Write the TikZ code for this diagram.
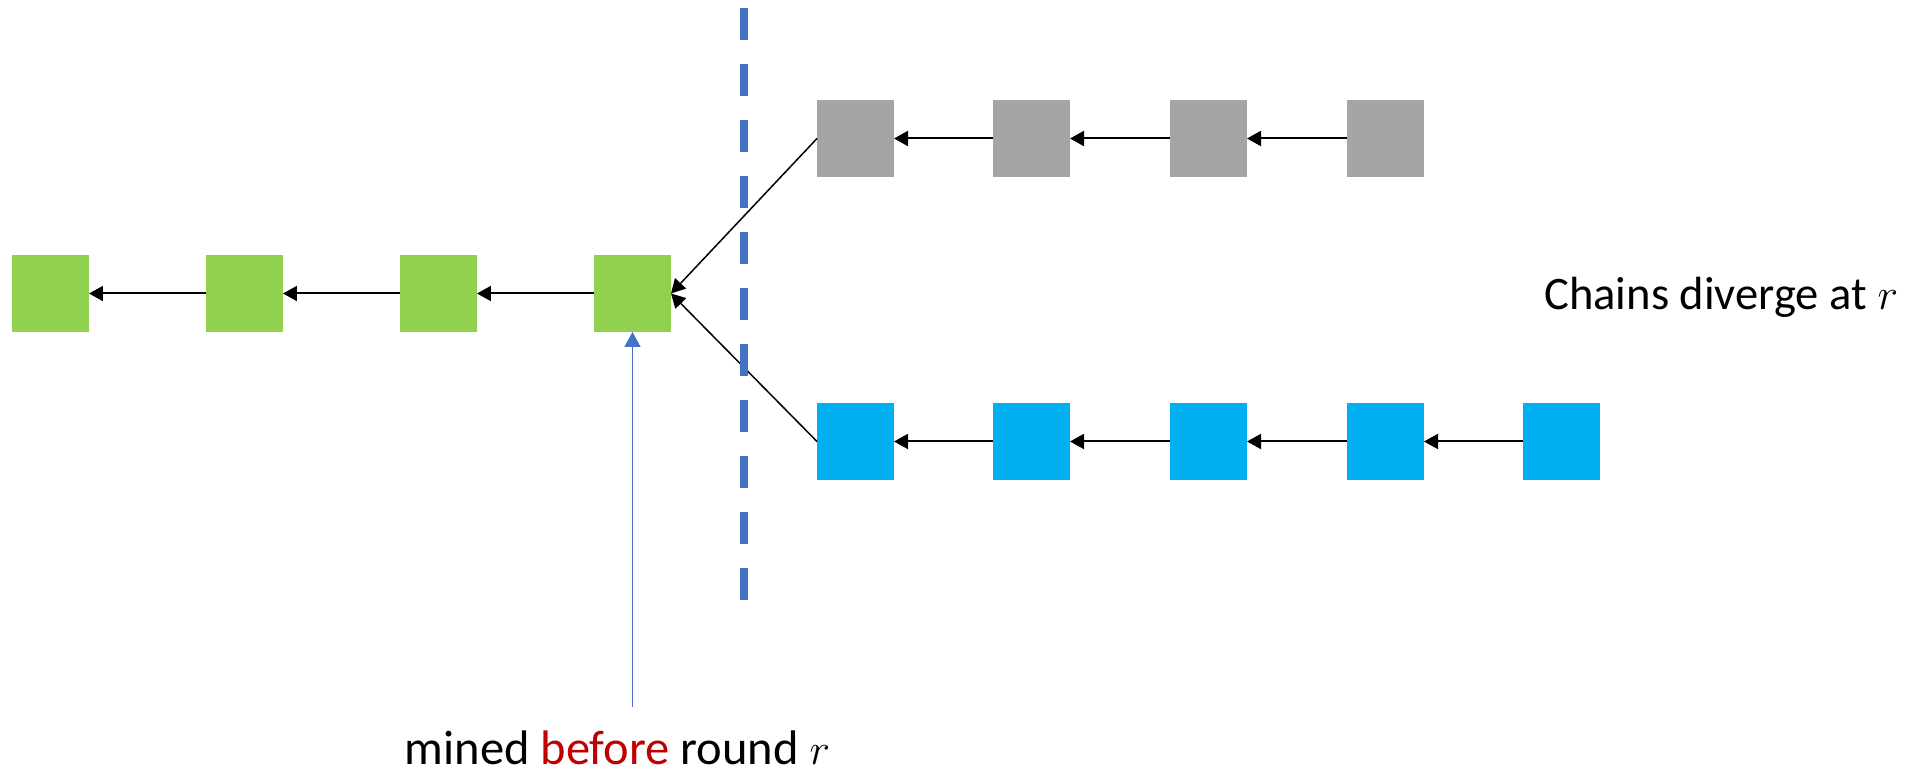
\documentclass[tikz,border=0pt]{standalone}
\usepackage{fontspec}
\setmainfont{Carlito}
\usetikzlibrary{arrows.meta,positioning}
\definecolor{BlockGreen}{HTML}{92D050}
\definecolor{BlockGray}{HTML}{A5A5A5}
\definecolor{BlockBlue}{HTML}{00B0F0}
\definecolor{RoundBlue}{HTML}{4472C4}
\definecolor{BeforeRed}{HTML}{C00000}

\begin{document}
\begin{tikzpicture}[x=0.02cm,y=-0.02cm,
    block/.style={minimum size=1.54cm,inner sep=0pt,outer sep=0pt},
    link/.style={-{Triangle[length=0.28cm,width=0.3cm]},line width=0.04cm,black},
    fork/.style={-{Triangle[length=0.28cm,width=0.3cm]},line width=0.03cm,black},
    txt/.style={inner sep=0pt,font=\fontsize{26.5}{30}\selectfont}]
  \useasboundingbox (0,0) rectangle (1923,776);

  % common prefix, mined before round r
  \foreach \i/\x in {1/50.5,2/244.5,3/438.5,4/632.5}
    \node[block,fill=BlockGreen] (g\i) at (\x,293.5) {};
  % the two forks
  \foreach \i/\x in {1/855.5,2/1031.5,3/1208.5,4/1385.5}
    \node[block,fill=BlockGray] (s\i) at (\x,138.5) {};
  \foreach \i/\x in {1/855.5,2/1031.5,3/1208.5,4/1385.5,5/1561.5}
    \node[block,fill=BlockBlue] (b\i) at (\x,441.5) {};

  \foreach \a/\b in {2/1,3/2,4/3}
    \draw[link] (g\a) -- (g\b);
  \foreach \a/\b in {2/1,3/2,4/3}
    \draw[link] (s\a) -- (s\b);
  \foreach \a/\b in {2/1,3/2,4/3,5/4}
    \draw[link] (b\a) -- (b\b);
  \draw[fork] (s1.west) -- (g4.east);
  \draw[fork] (b1.west) -- (g4.east);

  % round r
  \coordinate (cuttop) at (744,8);
  \coordinate (cutbot) at (744,600);
  \draw[RoundBlue,line width=0.16cm,dash pattern=on 0.64cm off 0.48cm] (cuttop) -- (cutbot);

  \node[txt,anchor=base west] (diverge) at (1544,310) {Chains diverge at $r$};
  \node[txt,anchor=base,font=\fontsize{27.6}{31}\selectfont] (before) at (617.5,764)
    {mined \textcolor{BeforeRed}{before} round $r$};
  \coordinate (tail) at (632.5,707);
  \draw[RoundBlue,line width=0.03cm,-{Triangle[length=0.3cm,width=0.32cm]}] (tail) -- (g4.south);
\end{tikzpicture}
\end{document}
